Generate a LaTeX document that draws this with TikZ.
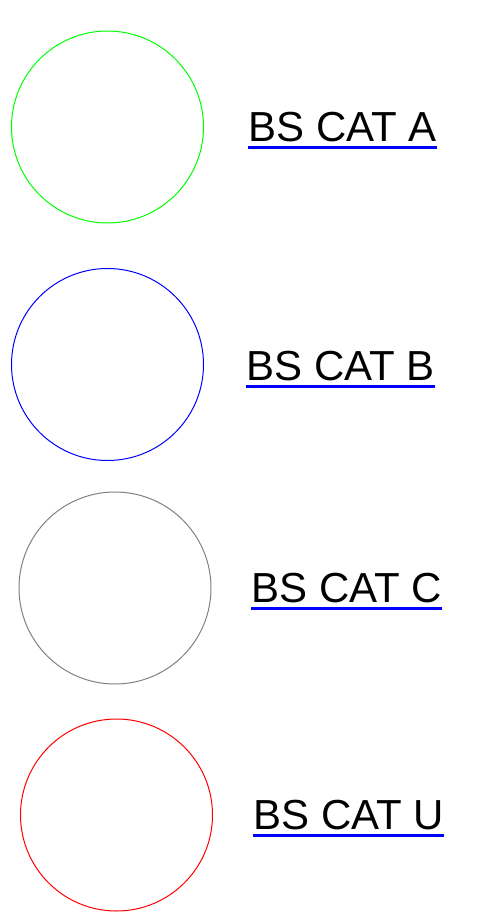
\documentclass[tikz,border=0pt]{standalone}
\usepackage{fontspec}
\setmainfont{Liberation Sans}
\definecolor{pgreen}{RGB}{0,255,0}
\definecolor{pblue}{RGB}{0,0,255}
\definecolor{pgray}{RGB}{128,128,128}
\definecolor{pred}{RGB}{255,0,0}
\begin{document}
\begin{tikzpicture}[x=1pt,y=-1pt,
  ring/.style={circle,draw=#1,line width=1pt,minimum size=192pt,inner sep=0pt},
  lab/.style={anchor=base west,inner sep=0pt,font=\fontsize{42}{44}\selectfont},
  uline/.style={draw=pblue,line width=3pt}]
\useasboundingbox (0,0) rectangle (479,915);
\node[ring=pgreen] (ca) at (107.5,127) {};
\node[ring=pblue] (cb) at (107.5,364.5) {};
\node[ring=pgray] (cc) at (115,588) {};
\node[ring=pred] (cu) at (116.5,815) {};
\node[lab] (ta) at (248.3,141.5) {BS CAT A};
\node[lab] (tb) at (246.3,380.5) {BS CAT B};
\node[lab] (tc) at (251.3,602.4) {BS CAT C};
\node[lab] (tu) at (253.3,829.2) {BS CAT U};
\foreach \t in {ta,tb,tc,tu}
  \draw[uline] ([yshift=-5.8pt]\t.base west) -- ([yshift=-5.8pt]\t.base east);
\end{tikzpicture}
\end{document}
